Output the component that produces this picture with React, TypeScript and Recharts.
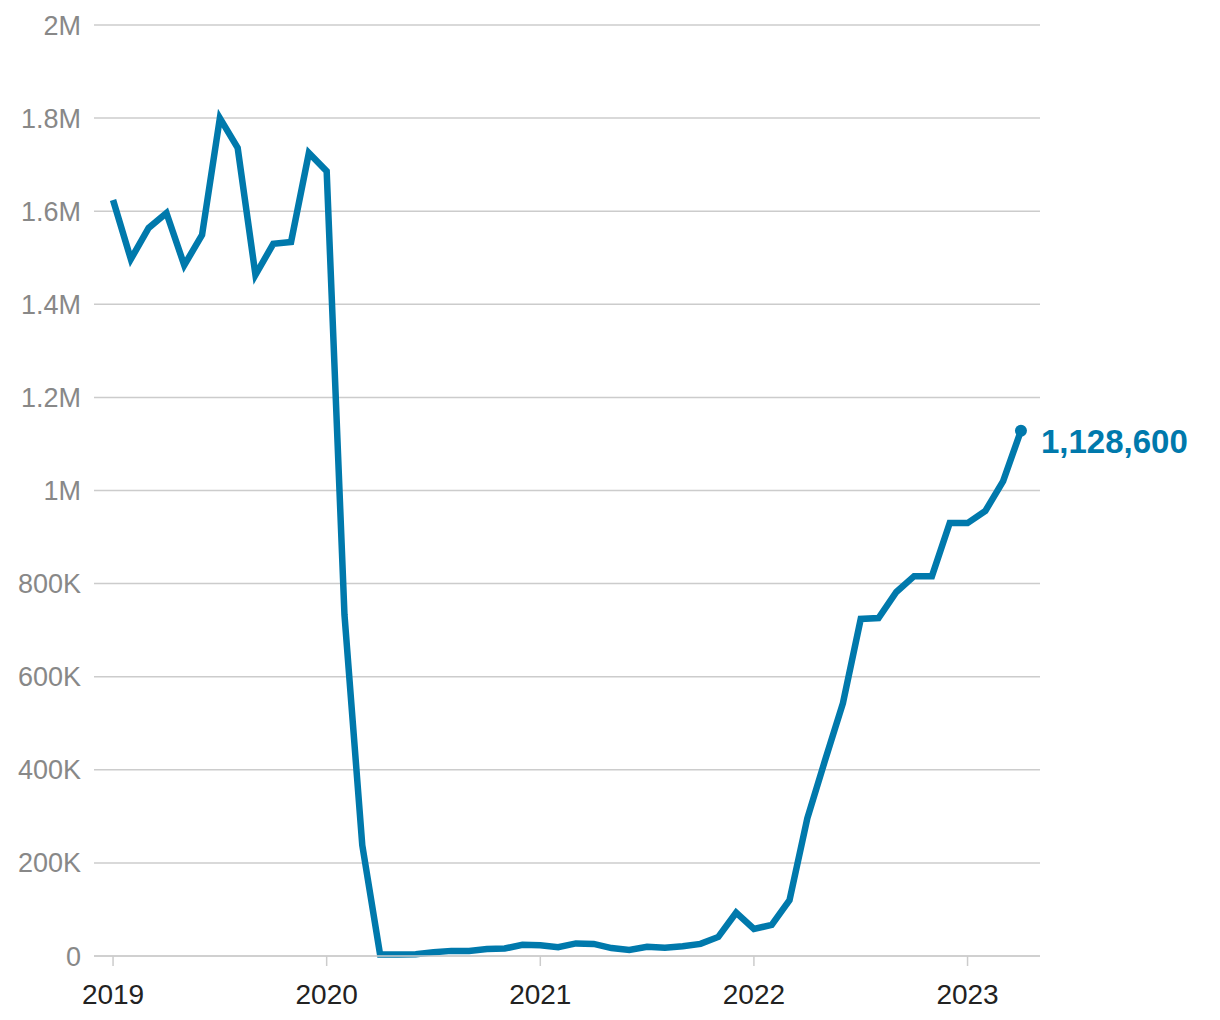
import { LineChart, Line, XAxis, YAxis, CartesianGrid } from "recharts";

// monthly, Jan 2019 .. Apr 2023
const startYear = 2019;
const values = [
  1624000, 1497000, 1564000, 1596000, 1484000, 1549000, 1800000, 1736000, 1463000, 1530000, 1534000, 1725000,
  1686000, 733000, 238000, 3000, 3000, 4000, 8000, 11000, 11000, 15000, 16000, 24000,
  23000, 19000, 27000, 26000, 17000, 13000, 20000, 18000, 21000, 26000, 41000, 93000,
  58000, 67000, 120000, 296000, 421000, 543000, 724000, 726000, 782000, 816000, 816000, 930000,
  930000, 956000, 1020000, 1128600,
];
const yTicks = [0, 200000, 400000, 600000, 800000, 1000000, 1200000, 1400000, 1600000, 1800000, 2000000];
const xTicks = [0, 12, 24, 36, 48];

const data = values.map((v, i) => ({ t: i, v }));

const BLUE = "#0079AC";
const FONT = "'Liberation Sans', Arial, sans-serif";

const fmtY = (v: number) => (v === 0 ? "0" : v >= 1000000 ? `${v / 1000000}M` : `${v / 1000}K`);

const LastDot = (props: any) => {
  const { cx, cy, index } = props;
  if (index !== data.length - 1) return <g key={`d${index}`} />;
  return (
    <g key={`d${index}`}>
      <circle cx={cx} cy={cy} r={6} fill={BLUE} />
      <text x={cx + 20} y={cy + 22} fill={BLUE} fontSize={33} fontWeight={700} fontFamily={FONT}>
        {values[index].toLocaleString("en-US")}
      </text>
    </g>
  );
};

export default function App() {
  return (
    <div style={{ position: "absolute", left: 0, top: 0, background: "#fff" }}>
      <LineChart width={1220} height={1020} data={data} margin={{ top: 25, right: 180, bottom: 0, left: 14 }}>
        <CartesianGrid vertical={false} stroke="#cccccc" strokeWidth={1.5} />
        <XAxis
          dataKey="t"
          type="number"
          domain={[-1.07, 52.07]}
          ticks={xTicks}
          tickFormatter={(t: number) => String(startYear + t / 12)}
          axisLine={{ stroke: "#cccccc", strokeWidth: 1.5 }}
          tickLine={{ stroke: "#cccccc", strokeWidth: 1.5 }}
          tickSize={10}
          tickMargin={18}
          height={64}
          tick={{ fill: "#222222", fontSize: 28, fontFamily: FONT }}
        />
        <YAxis
          domain={[0, 2000000]}
          ticks={yTicks}
          tickFormatter={fmtY}
          axisLine={false}
          tickLine={false}
          tickSize={0}
          tickMargin={13}
          width={80}
          tick={{ fill: "#888888", fontSize: 27, fontFamily: FONT }}
        />
        <Line
          type="linear"
          dataKey="v"
          stroke={BLUE}
          strokeWidth={6.5}
          dot={LastDot}
          activeDot={false}
          isAnimationActive={false}
        />
      </LineChart>
    </div>
  );
}
